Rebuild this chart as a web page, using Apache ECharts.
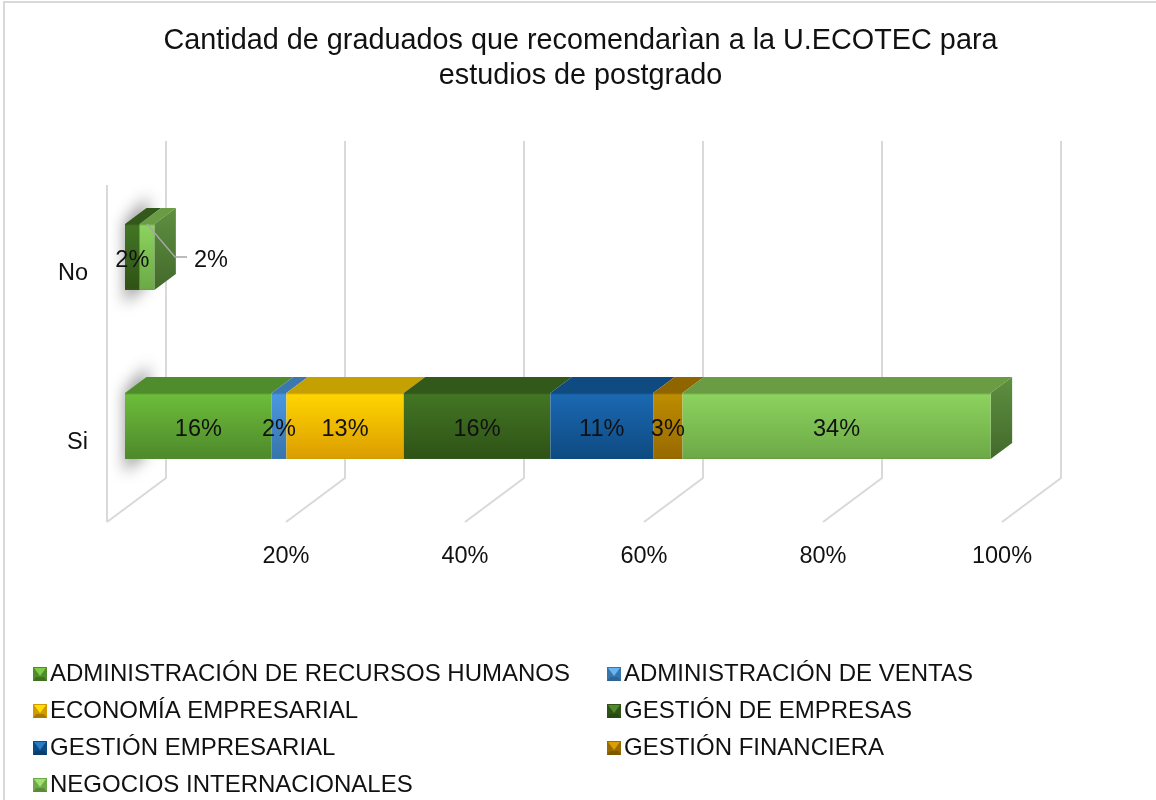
<!DOCTYPE html>
<html><head><meta charset="utf-8">
<style>html,body{margin:0;padding:0;background:#fff}#c{width:1156px;height:800px}</style>
<script src="https://cdn.jsdelivr.net/npm/echarts@6/dist/echarts.min.js"></script>
</head><body><div id="c"></div>
<script>
var categories = ['Si', 'No'];
var seriesNames = ['ADMINISTRACIÓN DE RECURSOS HUMANOS','ADMINISTRACIÓN DE VENTAS','ECONOMÍA EMPRESARIAL','GESTIÓN DE EMPRESAS','GESTIÓN EMPRESARIAL','GESTIÓN FINANCIERA','NEGOCIOS INTERNACIONALES'];
var adminRecursos = [16.39, null];
var adminVentas = [1.64, null];
var economia = [13.11, null];
var gestionEmpresas = [16.39, 1.64];
var gestionEmpresarial = [11.48, null];
var gestionFinanciera = [3.28, null];
var negocios = [34.43, 1.64];
var seriesValues = [adminRecursos, adminVentas, economia, gestionEmpresas, gestionEmpresarial, gestionFinanciera, negocios];
var axisTicks = [0, 20, 40, 60, 80, 100];

var frontTop = ['#6cbc3a','#4a97e0','#ffd400','#427524','#1b68b2','#bd8c00','#8cd25e'];
var frontBottom = ['#4f8a2b','#3775ad','#dc9e00','#2f5316','#0e4b82','#986a00','#6daa47'];
var topFace = ['#4f8c2b','#3b78b0','#c4a000','#33591a','#0f4b80','#8f6500','#699c43'];
var iconLight = ['#7ccc44','#66b4f0','#ffe000','#4f8a2b','#2a7cc8','#d8a000','#a0e070'];
var iconSide = ['#4f8a2b','#3775ad','#d29a00','#2f5316','#0e4b82','#986a00','#6daa47'];
var iconDark = ['#3f7022','#2f6496','#a87a00','#274812','#0b3e6c','#7e5800','#588c38'];

var BAR_H = 66, DX = 21.5, DY = 16;
var FONT = '"Liberation Sans", Arial, sans-serif';
var LG = echarts.graphic.LinearGradient;

function frontGradient(i) {
  return new LG(0, 0, 0, 1, [
    {offset: 0, color: topFace[i]}, {offset: 0.03, color: frontTop[i]},
    {offset: 0.97, color: frontBottom[i]}, {offset: 1, color: topFace[i]}
  ]);
}
function iconFor(i) {
  var svg = '<svg xmlns="http://www.w3.org/2000/svg" width="14" height="14">' +
    '<rect width="14" height="14" fill="' + iconSide[i] + '"/>' +
    '<path d="M0 14H14L11 10H3Z" fill="' + iconDark[i] + '"/>' +
    '<path d="M1 1H13L7 9Z" fill="' + iconLight[i] + '"/>' +
    '</svg>';
  return 'image://data:image/svg+xml;charset=utf-8,' + encodeURIComponent(svg);
}

// stacked extents per category, used for the top and side faces
var faceRows = [];
categories.forEach(function (c, ci) {
  var cum = 0, last = -1;
  seriesValues.forEach(function (a, si) { if (a[ci] != null) last = si; });
  seriesValues.forEach(function (a, si) {
    if (a[ci] == null) return;
    faceRows.push([cum, cum + a[ci], ci, si, si === last ? 1 : 0]);
    cum += a[ci];
  });
});

var barSeries = seriesNames.map(function (name, si) {
  return {
    type: 'bar', name: name, stack: 'total', barWidth: BAR_H, z: 3,
    itemStyle: {color: frontGradient(si)},
    label: {
      show: true, position: 'inside', color: '#111', fontFamily: FONT, fontSize: 23.5,
      formatter: function (p) { return Math.round(p.value) + '%'; }
    },
    labelLayout: {dy: 4, hideOverlap: false},
    data: seriesValues[si].map(function (v, ci) {
      if (si === 6 && ci === 1) return {value: v, label: {show: false}};
      return v;
    })
  };
});

var wallSeries = {
  type: 'custom', silent: true, clip: false, z: 1, data: axisTicks.map(function (t) { return [t]; }),
  encode: {x: 0},
  renderItem: function (params, api) {
    var v = api.value(0);
    var x = api.coord([v, 0])[0];
    var kids = [{type: 'polyline', shape: {points: [[x + 41, 141], [x + 41, 478], [x - 18, 522]]},
      style: {stroke: '#d9d9d9', lineWidth: 2, fill: null}}];
    if (v === 0) kids.push({type: 'line', shape: {x1: x - 18, y1: 185, x2: x - 18, y2: 522},
      style: {stroke: '#d9d9d9', lineWidth: 2}});
    return {type: 'group', children: kids};
  }
};

var shadowSeries = {
  type: 'custom', silent: true, clip: false, z: 2, data: categories.map(function (c, i) { return [0, i]; }),
  encode: {x: 0, y: 1},
  renderItem: function (params, api) {
    var p = api.coord([0, api.value(1)]);
    var t = p[1] - BAR_H / 2, b = p[1] + BAR_H / 2, x = p[0], off = 3000;
    return {type: 'polygon',
      shape: {points: [[x - off, t - 2], [x + 23 - off, t - 28], [x + 23 - off, b - 8], [x - off, b + 14]]},
      style: {fill: '#000', shadowColor: 'rgba(0,0,0,0.42)', shadowBlur: 15, shadowOffsetX: off, shadowOffsetY: 0}};
  }
};

var faceSeries = {
  type: 'custom', silent: true, clip: false, z: 2, data: faceRows,
  encode: {x: [0, 1], y: 2},
  renderItem: function (params, api) {
    var a = api.coord([api.value(0), api.value(2)]);
    var e = api.coord([api.value(1), api.value(2)]);
    var si = api.value(3);
    var t = a[1] - BAR_H / 2, b = a[1] + BAR_H / 2;
    var kids = [{type: 'polygon',
      shape: {points: [[a[0], t], [e[0], t], [e[0] + DX, t - DY], [a[0] + DX, t - DY]]},
      style: {fill: topFace[si]}}];
    if (api.value(4)) {
      kids.push({type: 'polygon',
        shape: {points: [[e[0], t], [e[0] + DX, t - DY], [e[0] + DX, b - DY], [e[0], b]]},
        style: {fill: new LG(0, 0, 0, 1, [{offset: 0, color: '#5e9040'}, {offset: 1, color: '#43692b'}])}});
    }
    return {type: 'group', children: kids};
  }
};

var calloutSeries = {
  type: 'custom', silent: true, clip: false, z: 6,
  data: [[gestionEmpresas[1] + negocios[1] / 2, 1, negocios[1]]],
  encode: {x: 0, y: 1},
  renderItem: function (params, api) {
    var p = api.coord([api.value(0), api.value(1)]);
    return {type: 'group', children: [
      {type: 'polyline', shape: {points: [[p[0], p[1] - 33], [p[0] + 28, p[1]], [p[0] + 40, p[1]]]},
        style: {stroke: '#a6a6a6', lineWidth: 1.5, fill: null}},
      {type: 'text', style: {x: p[0] + 64, y: p[1] + 4, text: Math.round(api.value(2)) + '%',
        fill: '#111', font: '23.5px ' + FONT, textAlign: 'center', textVerticalAlign: 'middle'}}
    ]};
  }
};

function legendFor(names, left) {
  return {
    left: left, top: 662, orient: 'vertical', selectedMode: false, padding: 0,
    itemWidth: 14, itemHeight: 14, itemGap: 13, symbolRotate: 0,
    textStyle: {color: '#111', fontFamily: FONT, fontSize: 24, padding: [0, 0, 0, -2]},
    data: names.map(function (n) { return {name: n, icon: iconFor(seriesNames.indexOf(n))}; })
  };
}

var chart = echarts.init(document.getElementById('c'), null, {renderer: 'canvas'});
chart.setOption({
  animation: false,
  backgroundColor: '#fff',
  title: {
    text: 'Cantidad de graduados que recomendarìan a la U.ECOTEC para\nestudios de postgrado',
    left: 575.5, top: 19, textAlign: 'center',
    textStyle: {color: '#111', fontFamily: FONT, fontSize: 28.8, fontWeight: 'normal', lineHeight: 35}
  },
  legend: [
    legendFor([seriesNames[0], seriesNames[2], seriesNames[4], seriesNames[6]], 33),
    legendFor([seriesNames[1], seriesNames[3], seriesNames[5]], 607)
  ],
  grid: {left: 125, top: 172.5, width: 895, height: 338},
  xAxis: {
    type: 'value', min: 0, max: 100, interval: 20,
    axisLine: {show: false}, axisTick: {show: false}, splitLine: {show: false},
    axisLabel: {
      margin: 34, color: '#111', fontFamily: FONT, fontSize: 23.5, padding: [0, 36, 0, 0],
      showMinLabel: false,
      formatter: function (v) { return v === 0 ? '' : v + '%'; }
    }
  },
  yAxis: {
    type: 'category', data: categories,
    axisLine: {show: false}, axisTick: {show: false}, splitLine: {show: false},
    axisLabel: {margin: 37, color: '#111', fontFamily: FONT, fontSize: 23.5, verticalAlign: 'top', lineHeight: 28, padding: [3, 0, 0, 0]}
  },
  graphic: [{type: 'polyline', silent: true, z: 0,
    shape: {points: [[4, 800], [4, 2], [1156, 2]]},
    style: {stroke: '#d9d9d9', lineWidth: 2, fill: null}}],
  series: [wallSeries, shadowSeries, faceSeries].concat(barSeries, [calloutSeries])
});
</script></body></html>
